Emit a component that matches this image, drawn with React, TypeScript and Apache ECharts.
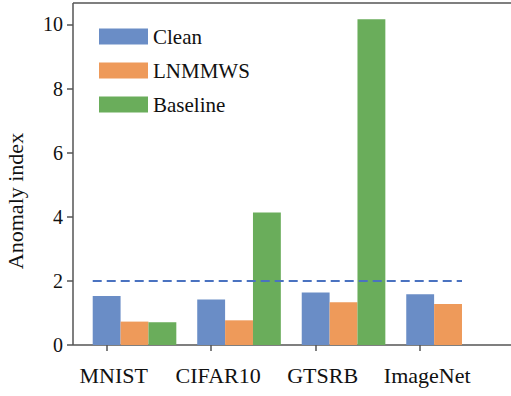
import React, { useEffect, useRef } from "react";
import * as echarts from "echarts";

const CATEGORIES = ["MNIST", "CIFAR10", "GTSRB", "ImageNet"];
const SERIES_NAMES = ["Clean", "LNMMWS", "Baseline"];
const CLEAN = [1.53, 1.42, 1.64, 1.58];
const LNMMWS = [0.73, 0.77, 1.33, 1.28];
const BASELINE: (number | null)[] = [0.71, 4.13, 10.16, null];
const THRESHOLD = 2;
const Y_TICKS = [0, 2, 4, 6, 8, 10];

const COLORS = ["#6a8dc6", "#ee9a5a", "#6aad5b"];
const FONT = "Liberation Serif, Times New Roman, serif";

// layout constants
const BAR_UNIT = 0.8 / 3; // bar width in category units
const X_MIN = -0.322;
const X_MAX = 3.869;
const Y_MAX = 10.67;
const GRID_LEFT = 73;
const GRID_TOP = 3;
const GRID_BOTTOM = 51;

export default function App() {
  const ref = useRef<HTMLDivElement>(null);
  useEffect(() => {
    document.body.style.margin = "0";
    if (!ref.current) return;
    const chart = echarts.init(ref.current, undefined, { renderer: "svg" });
    const toData = (arr: (number | null)[]) =>
      arr
        .map((v, i) => (v === null ? null : [i, v]))
        .filter((d) => d !== null) as number[][];
    const axisColor = "#555";
    const barSeries = (k: number, values: (number | null)[]) => ({
      name: SERIES_NAMES[k],
      type: "custom",
      itemStyle: { color: COLORS[k] },
      encode: { x: 0, y: 1 },
      data: toData(values),
      renderItem: (_params: any, api: any) => {
        const x = api.value(0) + k * BAR_UNIT;
        const v = api.value(1);
        const top = api.coord([x, v]);
        const base = api.coord([x, 0]);
        const w = api.size([BAR_UNIT, 0])[0];
        return {
          type: "rect",
          shape: { x: top[0] - w / 2, y: top[1], width: w, height: base[1] - top[1] },
          style: { fill: COLORS[k] },
        };
      },
    });
    const H = 396;
    const W = 511;
    const frameStyle = { stroke: axisColor, lineWidth: 1.5 };
    const option: any = {
      animation: false,
      textStyle: { fontFamily: FONT },
      grid: { left: GRID_LEFT, right: -5, top: GRID_TOP, bottom: GRID_BOTTOM },
      legend: {
        data: SERIES_NAMES,
        orient: "vertical",
        left: 94,
        top: 21,
        itemWidth: 49,
        itemHeight: 16,
        itemGap: 13,
        icon: "rect",
        textStyle: { fontFamily: FONT, fontSize: 21, color: "#111", lineHeight: 20 },
      },
      xAxis: {
        type: "value",
        min: X_MIN,
        max: X_MAX,
        splitLine: { show: false },
        axisLine: { show: false, onZero: false },
        axisTick: {
          show: true,
          length: 6,
          customValues: CATEGORIES.map((_, i) => i),
          lineStyle: { color: axisColor, width: 1.5 },
        },
        axisLabel: {
          customValues: CATEGORIES.map((_, i) => i),
          formatter: (v: number) => CATEGORIES[Math.round(v)] ?? "",
          margin: 19,
          padding: [0, 0, 0, 14],
          fontFamily: FONT,
          fontSize: 22,
          color: "#111",
        },
      },
      yAxis: {
        type: "value",
        min: 0,
        max: Y_MAX,
        splitLine: { show: false },
        axisLine: { show: false, onZero: false },
        axisTick: {
          show: true,
          length: 6,
          customValues: Y_TICKS,
          lineStyle: { color: axisColor, width: 1.5 },
        },
        axisLabel: {
          customValues: Y_TICKS,
          margin: 10,
          fontFamily: FONT,
          fontSize: 20,
          color: "#111",
        },
      },
      graphic: [
        {
          type: "line",
          shape: { x1: GRID_LEFT, y1: GRID_TOP, x2: W, y2: GRID_TOP },
          style: frameStyle,
        },
        {
          type: "line",
          shape: { x1: GRID_LEFT, y1: GRID_TOP, x2: GRID_LEFT, y2: H - GRID_BOTTOM },
          style: frameStyle,
        },
        {
          type: "line",
          shape: { x1: GRID_LEFT, y1: H - GRID_BOTTOM, x2: W, y2: H - GRID_BOTTOM },
          style: frameStyle,
        },
        {
          type: "text",
          x: 15,
          y: 201,
          rotation: Math.PI / 2,
          style: {
            text: "Anomaly index",
            fontFamily: FONT,
            fontSize: 22,
            fill: "#111",
            align: "center",
            verticalAlign: "middle",
          },
        },
      ],
      series: [
        barSeries(0, CLEAN),
        barSeries(1, LNMMWS),
        barSeries(2, BASELINE),
        {
          name: "threshold",
          type: "line",
          symbol: "none",
          z: 5,
          lineStyle: { color: "#4a72c0", width: 2, type: [9, 5] },
          data: [
            [0 - BAR_UNIT / 2, THRESHOLD],
            [CATEGORIES.length - 1 + 1.5 * BAR_UNIT, THRESHOLD],
          ],
        },
      ],
    };
    chart.setOption(option);
    return () => chart.dispose();
  }, []);
  return <div ref={ref} style={{ width: 511, height: 396 }} />;
}
